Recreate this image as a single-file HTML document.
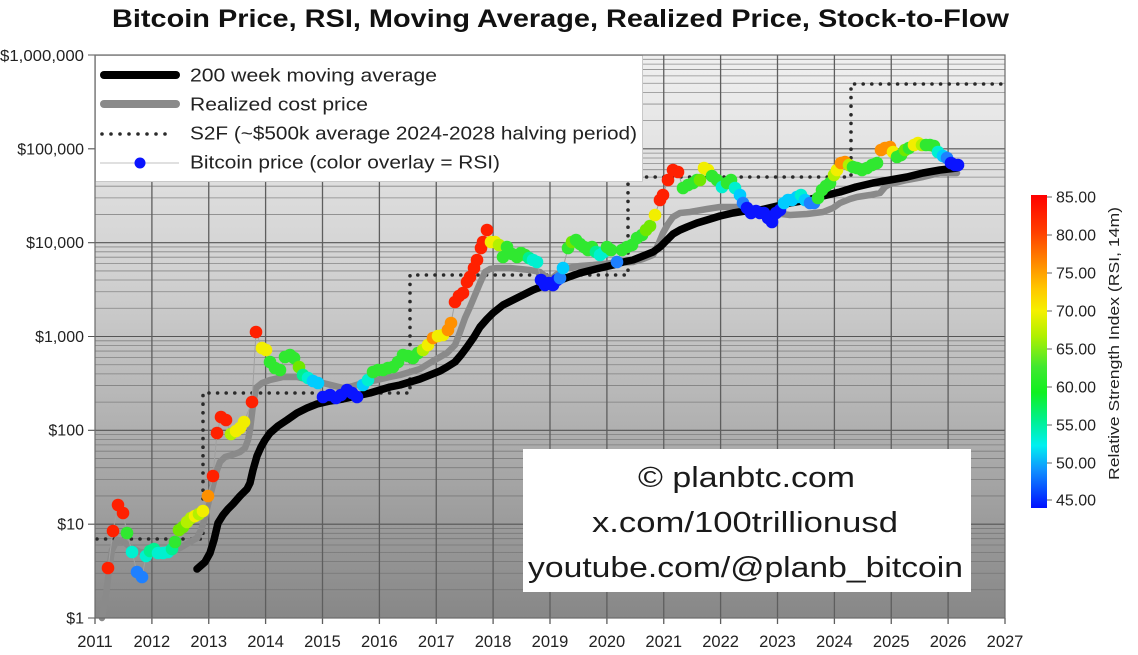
<!DOCTYPE html>
<html>
<head>
<meta charset="utf-8">
<style>
html,body{margin:0;padding:0;background:#fff;}
svg{display:block;font-family:"Liberation Sans","DejaVu Sans",sans-serif;}
.R{fill:#ff2000}.O{fill:#ff9000}.Y{fill:#f2ee00}.YG{fill:#b4f000}.LG{fill:#70e800}
.G{fill:#30e830}.AG{fill:#00f090}.A{fill:#00f0d0}.C{fill:#00ccff}.DB{fill:#1e80ff}.B{fill:#0a14ff}
</style>
</head>
<body>
<svg width="1138" height="655" viewBox="0 0 1138 655" xmlns="http://www.w3.org/2000/svg">
<defs>
<linearGradient id="bg" x1="0" y1="0" x2="0" y2="1">
<stop offset="0" stop-color="#f0f0f0"/>
<stop offset="0.4" stop-color="#d0d0d0"/>
<stop offset="1" stop-color="#878787"/>
</linearGradient>
<linearGradient id="cb" x1="0" y1="0" x2="0" y2="1">
<stop offset="0" stop-color="#ff0000"/>
<stop offset="0.12" stop-color="#ff4000"/>
<stop offset="0.22" stop-color="#ff8c00"/>
<stop offset="0.3" stop-color="#ffc800"/>
<stop offset="0.37" stop-color="#f5f000"/>
<stop offset="0.45" stop-color="#b0f000"/>
<stop offset="0.55" stop-color="#40e830"/>
<stop offset="0.63" stop-color="#10f020"/>
<stop offset="0.72" stop-color="#00f090"/>
<stop offset="0.8" stop-color="#00f0f0"/>
<stop offset="0.88" stop-color="#1090ff"/>
<stop offset="1" stop-color="#0010ff"/>
</linearGradient>
</defs>

<!-- Title -->
<text x="112" y="27" font-size="25" font-weight="bold" fill="#111" textLength="897" lengthAdjust="spacingAndGlyphs">Bitcoin Price, RSI, Moving Average, Realized Price, Stock-to-Flow</text>

<!-- plot background -->
<rect x="95" y="55" width="910" height="563" fill="url(#bg)"/>

<!-- minor horizontal gridlines -->
<path fill="none" stroke="#6e6e6e" stroke-width="0.8" opacity="0.75" d="
M95 589.75H1005M95 573.23H1005M95 561.51H1005M95 552.41H1005M95 545H1005M95 538.7H1005M95 533.3H1005M95 528.45H1005
M95 495.92H1005M95 479.4H1005M95 467.68H1005M95 458.58H1005M95 451.17H1005M95 444.87H1005M95 439.47H1005M95 434.62H1005
M95 402.09H1005M95 385.57H1005M95 373.85H1005M95 364.75H1005M95 357.34H1005M95 351.04H1005M95 345.64H1005M95 340.79H1005
M95 308.26H1005M95 291.74H1005M95 280.02H1005M95 270.92H1005M95 263.51H1005M95 257.21H1005M95 251.81H1005M95 246.96H1005
M95 214.43H1005M95 197.91H1005M95 186.19H1005M95 177.09H1005M95 169.68H1005M95 163.38H1005M95 157.98H1005M95 153.13H1005
M95 120.6H1005M95 104.08H1005M95 92.36H1005M95 83.26H1005M95 75.85H1005M95 69.55H1005M95 64.15H1005M95 59.3H1005"/>
<!-- major horizontal -->
<path fill="none" stroke="#555" stroke-width="1.1" d="M88 524.17H1005M88 430.34H1005M88 336.51H1005M88 242.68H1005M88 148.85H1005M88 55H1005M88 618H95"/>
<!-- vertical year lines -->
<path fill="none" stroke="#5e5e5e" stroke-width="1.3" d="
M151.9 55V624M208.75 55V624M265.6 55V624M322.5 55V624M379.4 55V624M436.25 55V624M493.1 55V624M550 55V624M606.9 55V624M663.75 55V624M720.6 55V624M777.5 55V624M834.4 55V624M891.25 55V624M948.1 55V624M95 618V624M1005 618V624"/>

<!-- S2F dotted -->
<path fill="none" stroke="#2a2a2a" stroke-width="3.6" stroke-linecap="round" stroke-dasharray="0 8.6" d="M97 539H203V393H410V275H628V177H851V84H1003"/>

<!-- Realized price -->
<polyline fill="none" stroke="#8a8a8a" stroke-width="6.5" stroke-linejoin="round" stroke-linecap="round" points="102,618 106,595 109,570 112,550 117,540 123,541 130,547 140,552 150,553 160,553 170,552 180,548 190,542 197,538 201,530 205,518 209,500 213,485 217,470 220,462 225,457 232,455 240,452 245,448 248,440 250,430 253,405 256,388 262,383 270,380 283,377 297,377 310,380 323,383 335,386 343,388 353,386 363,383 377,380 390,377 400,375 410,372 420,369 433,361 447,353 455,345 460,332 465,318 470,307 475,295 480,283 485,272 490,269 497,268 510,268 520,269 530,270 540,272 546,277 550,280 556,275 567,268 580,266 593,265 613,263 633,262 643,259 653,255 658,245 663,233 668,224 673,217 680,213 690,212 707,209 720,207 740,207 757,209 773,213 790,215 807,214 823,212 833,208 840,203 850,199 857,197 870,195 880,193 885,187 890,184 907,180 923,177 940,173 957,173"/>

<!-- 200 week MA -->
<polyline fill="none" stroke="#000" stroke-width="7.5" stroke-linejoin="round" stroke-linecap="round" points="197,569 205,562 210,553 214,540 218,523 223,515 228,509 233,504 240,496 247,489 250,483 253,470 257,456 261,447 265,440 270,433 278,426 287,420 297,413 307,408 317,404 330,401 343,399 356,396 370,393 380,390 390,387 400,385 410,382 420,379 430,375 440,371 447,367 455,362 461,355 467,347 474,337 480,327 487,319 493,313 503,305 513,300 523,295 533,290 543,286 553,283 566,278 580,273 596,269 613,265 623,262 633,260 643,256 653,252 660,247 667,240 673,234 680,230 687,227 697,223 707,220 720,216 733,213 745,211 760,210 773,207 790,203 807,200 823,196 840,192 856,187 873,183 890,180 907,177 923,173 940,170 957,168"/>

<!-- price connecting line -->
<polyline fill="none" stroke="#a0a0a0" stroke-width="1" points="108,568 113,531 118,505 123,513 127,533 132,552 137,572 142,577 146,556 150,551 154,549 158,553 163,553 168,552 172,549 175,542 179,530 183,527 187,522 191,518 195,516 199,514 203,511 208,496 213,476 217,433 221,417 226,420 231,434 236,431 240,428 244,422 252,402 256,332 262,348 266,350 270,362 275,368 280,370 285,357 290,355 294,358 299,367 303,375 308,378 313,381 318,383 323,397 330,395 336,398 341,395 347,390 352,393 357,397 363,385 368,380 373,372 378,370 383,370 388,368 393,367 398,362 403,355 408,356 413,358 418,353 423,350 428,345 433,338 438,336 443,335 448,330 451,323 455,302 459,296 463,293 467,282 470,277 474,268 477,260 481,248 483,242 487,230 491,242 495,242 499,245 503,257 507,247 512,254 517,257 521,253 525,255 529,258 533,260 537,262 541,280 545,285 549,283 553,285 557,280 560,278 563,268 568,248 572,242 576,240 580,244 584,247 588,250 592,247 596,252 600,255 604,252 607,247 611,250 617,262 622,250 627,247 632,245 637,238 642,235 646,230 650,226 655,215 660,200 663,195 668,180 673,170 678,172 683,188 688,185 693,183 697,180 700,180 704,168 708,170 712,176 717,180 722,187 727,183 731,180 735,188 740,195 743,203 747,208 751,213 756,211 760,213 764,213 768,218 772,222 776,213 780,210 784,203 788,200 792,200 797,197 801,195 805,200 810,203 814,203 818,198 822,190 826,186 830,183 834,175 837,170 841,163 845,162 849,165 853,167 857,168 862,170 867,168 872,165 877,163 881,150 885,148 890,147 893,152 897,157 901,155 905,150 909,148 914,145 918,143 922,145 926,145 930,145 934,146 938,152 943,156 947,158 951,163 955,165 958,165"/>

<!-- price dots -->
<g>
<circle cx="108" cy="568" r="6.3" class="R"/><circle cx="113" cy="531" r="6.3" class="R"/><circle cx="118" cy="505" r="6.3" class="R"/><circle cx="123" cy="513" r="6.3" class="R"/><circle cx="127" cy="533" r="6.3" class="G"/><circle cx="132" cy="552" r="6.3" class="A"/><circle cx="137" cy="572" r="6.3" class="DB"/><circle cx="142" cy="577" r="6.3" class="DB"/><circle cx="146" cy="556" r="6.3" class="A"/><circle cx="150" cy="551" r="6.3" class="AG"/><circle cx="154" cy="549" r="6.3" class="AG"/><circle cx="158" cy="553" r="6.3" class="A"/><circle cx="163" cy="553" r="6.3" class="A"/><circle cx="168" cy="552" r="6.3" class="A"/><circle cx="172" cy="549" r="6.3" class="AG"/><circle cx="175" cy="542" r="6.3" class="G"/><circle cx="179" cy="530" r="6.3" class="LG"/><circle cx="183" cy="527" r="6.3" class="LG"/><circle cx="187" cy="522" r="6.3" class="YG"/><circle cx="191" cy="518" r="6.3" class="YG"/><circle cx="195" cy="516" r="6.3" class="Y"/><circle cx="199" cy="514" r="6.3" class="YG"/><circle cx="203" cy="511" r="6.3" class="Y"/><circle cx="208" cy="496" r="6.3" class="O"/><circle cx="213" cy="476" r="6.3" class="R"/><circle cx="217" cy="433" r="6.3" class="R"/><circle cx="221" cy="417" r="6.3" class="R"/><circle cx="226" cy="420" r="6.3" class="R"/><circle cx="231" cy="434" r="6.3" class="YG"/><circle cx="236" cy="431" r="6.3" class="Y"/><circle cx="240" cy="428" r="6.3" class="Y"/><circle cx="244" cy="422" r="6.3" class="Y"/><circle cx="252" cy="402" r="6.3" class="R"/><circle cx="256" cy="332" r="6.3" class="R"/><circle cx="262" cy="348" r="6.3" class="Y"/><circle cx="266" cy="350" r="6.3" class="Y"/><circle cx="270" cy="362" r="6.3" class="G"/><circle cx="275" cy="368" r="6.3" class="G"/><circle cx="280" cy="370" r="6.3" class="G"/><circle cx="285" cy="357" r="6.3" class="G"/><circle cx="290" cy="355" r="6.3" class="G"/><circle cx="294" cy="358" r="6.3" class="G"/><circle cx="299" cy="367" r="6.3" class="LG"/><circle cx="303" cy="375" r="6.3" class="AG"/><circle cx="308" cy="378" r="6.3" class="A"/><circle cx="313" cy="381" r="6.3" class="C"/><circle cx="318" cy="383" r="6.3" class="C"/><circle cx="323" cy="397" r="6.3" class="B"/><circle cx="330" cy="395" r="6.3" class="B"/><circle cx="336" cy="398" r="6.3" class="B"/><circle cx="341" cy="395" r="6.3" class="B"/><circle cx="347" cy="390" r="6.3" class="B"/><circle cx="352" cy="393" r="6.3" class="B"/><circle cx="357" cy="397" r="6.3" class="B"/><circle cx="363" cy="385" r="6.3" class="C"/><circle cx="368" cy="380" r="6.3" class="A"/><circle cx="373" cy="372" r="6.3" class="G"/><circle cx="378" cy="370" r="6.3" class="G"/><circle cx="383" cy="370" r="6.3" class="G"/><circle cx="388" cy="368" r="6.3" class="G"/><circle cx="393" cy="367" r="6.3" class="G"/><circle cx="398" cy="362" r="6.3" class="G"/><circle cx="403" cy="355" r="6.3" class="G"/><circle cx="408" cy="356" r="6.3" class="G"/><circle cx="413" cy="358" r="6.3" class="G"/><circle cx="418" cy="353" r="6.3" class="G"/><circle cx="423" cy="350" r="6.3" class="YG"/><circle cx="428" cy="345" r="6.3" class="Y"/><circle cx="433" cy="338" r="6.3" class="O"/><circle cx="438" cy="336" r="6.3" class="Y"/><circle cx="443" cy="335" r="6.3" class="Y"/><circle cx="448" cy="330" r="6.3" class="O"/><circle cx="451" cy="323" r="6.3" class="O"/><circle cx="455" cy="302" r="6.3" class="R"/><circle cx="459" cy="296" r="6.3" class="R"/><circle cx="463" cy="293" r="6.3" class="R"/><circle cx="467" cy="282" r="6.3" class="R"/><circle cx="470" cy="277" r="6.3" class="R"/><circle cx="474" cy="268" r="6.3" class="R"/><circle cx="477" cy="260" r="6.3" class="R"/><circle cx="481" cy="248" r="6.3" class="R"/><circle cx="483" cy="242" r="6.3" class="R"/><circle cx="487" cy="230" r="6.3" class="R"/><circle cx="491" cy="242" r="6.3" class="Y"/><circle cx="495" cy="242" r="6.3" class="Y"/><circle cx="499" cy="245" r="6.3" class="YG"/><circle cx="503" cy="257" r="6.3" class="G"/><circle cx="507" cy="247" r="6.3" class="G"/><circle cx="512" cy="254" r="6.3" class="G"/><circle cx="517" cy="257" r="6.3" class="G"/><circle cx="521" cy="253" r="6.3" class="G"/><circle cx="525" cy="255" r="6.3" class="G"/><circle cx="529" cy="258" r="6.3" class="AG"/><circle cx="533" cy="260" r="6.3" class="A"/><circle cx="537" cy="262" r="6.3" class="A"/><circle cx="541" cy="280" r="6.3" class="B"/><circle cx="545" cy="285" r="6.3" class="B"/><circle cx="549" cy="283" r="6.3" class="B"/><circle cx="553" cy="285" r="6.3" class="B"/><circle cx="557" cy="280" r="6.3" class="B"/><circle cx="560" cy="278" r="6.3" class="DB"/><circle cx="563" cy="268" r="6.3" class="C"/><circle cx="568" cy="248" r="6.3" class="G"/><circle cx="572" cy="242" r="6.3" class="LG"/><circle cx="576" cy="240" r="6.3" class="G"/><circle cx="580" cy="244" r="6.3" class="G"/><circle cx="584" cy="247" r="6.3" class="G"/><circle cx="588" cy="250" r="6.3" class="G"/><circle cx="592" cy="247" r="6.3" class="G"/><circle cx="596" cy="252" r="6.3" class="AG"/><circle cx="600" cy="255" r="6.3" class="A"/><circle cx="604" cy="252" r="6.3" class="A"/><circle cx="607" cy="247" r="6.3" class="G"/><circle cx="611" cy="250" r="6.3" class="G"/><circle cx="617" cy="262" r="6.3" class="DB"/><circle cx="622" cy="250" r="6.3" class="G"/><circle cx="627" cy="247" r="6.3" class="G"/><circle cx="632" cy="245" r="6.3" class="G"/><circle cx="637" cy="238" r="6.3" class="G"/><circle cx="642" cy="235" r="6.3" class="G"/><circle cx="646" cy="230" r="6.3" class="LG"/><circle cx="650" cy="226" r="6.3" class="LG"/><circle cx="655" cy="215" r="6.3" class="Y"/><circle cx="660" cy="200" r="6.3" class="R"/><circle cx="663" cy="195" r="6.3" class="R"/><circle cx="668" cy="180" r="6.3" class="R"/><circle cx="673" cy="170" r="6.3" class="R"/><circle cx="678" cy="172" r="6.3" class="R"/><circle cx="683" cy="188" r="6.3" class="G"/><circle cx="688" cy="185" r="6.3" class="G"/><circle cx="693" cy="183" r="6.3" class="G"/><circle cx="697" cy="180" r="6.3" class="G"/><circle cx="700" cy="180" r="6.3" class="LG"/><circle cx="704" cy="168" r="6.3" class="Y"/><circle cx="708" cy="170" r="6.3" class="Y"/><circle cx="712" cy="176" r="6.3" class="G"/><circle cx="717" cy="180" r="6.3" class="G"/><circle cx="722" cy="187" r="6.3" class="A"/><circle cx="727" cy="183" r="6.3" class="G"/><circle cx="731" cy="180" r="6.3" class="G"/><circle cx="735" cy="188" r="6.3" class="A"/><circle cx="740" cy="195" r="6.3" class="C"/><circle cx="743" cy="203" r="6.3" class="DB"/><circle cx="747" cy="208" r="6.3" class="B"/><circle cx="751" cy="213" r="6.3" class="B"/><circle cx="756" cy="211" r="6.3" class="B"/><circle cx="760" cy="213" r="6.3" class="B"/><circle cx="764" cy="213" r="6.3" class="B"/><circle cx="768" cy="218" r="6.3" class="B"/><circle cx="772" cy="222" r="6.3" class="B"/><circle cx="776" cy="213" r="6.3" class="B"/><circle cx="780" cy="210" r="6.3" class="B"/><circle cx="784" cy="203" r="6.3" class="C"/><circle cx="788" cy="200" r="6.3" class="C"/><circle cx="792" cy="200" r="6.3" class="C"/><circle cx="797" cy="197" r="6.3" class="C"/><circle cx="801" cy="195" r="6.3" class="A"/><circle cx="805" cy="200" r="6.3" class="C"/><circle cx="810" cy="203" r="6.3" class="DB"/><circle cx="814" cy="203" r="6.3" class="DB"/><circle cx="818" cy="198" r="6.3" class="G"/><circle cx="822" cy="190" r="6.3" class="G"/><circle cx="826" cy="186" r="6.3" class="G"/><circle cx="830" cy="183" r="6.3" class="G"/><circle cx="834" cy="175" r="6.3" class="YG"/><circle cx="837" cy="170" r="6.3" class="Y"/><circle cx="841" cy="163" r="6.3" class="O"/><circle cx="845" cy="162" r="6.3" class="O"/><circle cx="849" cy="165" r="6.3" class="YG"/><circle cx="853" cy="167" r="6.3" class="G"/><circle cx="857" cy="168" r="6.3" class="G"/><circle cx="862" cy="170" r="6.3" class="G"/><circle cx="867" cy="168" r="6.3" class="G"/><circle cx="872" cy="165" r="6.3" class="G"/><circle cx="877" cy="163" r="6.3" class="G"/><circle cx="881" cy="150" r="6.3" class="O"/><circle cx="885" cy="148" r="6.3" class="O"/><circle cx="890" cy="147" r="6.3" class="O"/><circle cx="893" cy="152" r="6.3" class="Y"/><circle cx="897" cy="157" r="6.3" class="G"/><circle cx="901" cy="155" r="6.3" class="G"/><circle cx="905" cy="150" r="6.3" class="LG"/><circle cx="909" cy="148" r="6.3" class="G"/><circle cx="914" cy="145" r="6.3" class="Y"/><circle cx="918" cy="143" r="6.3" class="Y"/><circle cx="922" cy="145" r="6.3" class="YG"/><circle cx="926" cy="145" r="6.3" class="G"/><circle cx="930" cy="145" r="6.3" class="G"/><circle cx="934" cy="146" r="6.3" class="G"/><circle cx="938" cy="152" r="6.3" class="A"/><circle cx="943" cy="156" r="6.3" class="C"/><circle cx="947" cy="158" r="6.3" class="DB"/><circle cx="951" cy="163" r="6.3" class="B"/><circle cx="955" cy="165" r="6.3" class="B"/><circle cx="958" cy="165" r="6.3" class="B"/>
</g>

<!-- Legend -->
<rect x="95.5" y="55.5" width="547" height="126" fill="#fff" stroke="#c8c8c8" stroke-width="1"/>
<line x1="104" y1="75" x2="176" y2="75" stroke="#000" stroke-width="8" stroke-linecap="round"/>
<line x1="104" y1="104" x2="176" y2="104" stroke="#8a8a8a" stroke-width="8" stroke-linecap="round"/>
<line x1="102" y1="134" x2="174" y2="134" stroke="#2a2a2a" stroke-width="3.6" stroke-linecap="round" stroke-dasharray="0 9"/>
<line x1="100" y1="163" x2="179" y2="163" stroke="#c0c0c0" stroke-width="1"/>
<circle cx="140" cy="163" r="5.5" fill="#0a14ff"/>
<g font-size="18.5" fill="#222">
<text x="190" y="81.5" textLength="247" lengthAdjust="spacingAndGlyphs">200 week moving average</text>
<text x="190" y="110.5" textLength="178" lengthAdjust="spacingAndGlyphs">Realized cost price</text>
<text x="190" y="139.5" textLength="447" lengthAdjust="spacingAndGlyphs">S2F (~$500k average 2024-2028 halving period)</text>
<text x="190" y="168.5" textLength="310" lengthAdjust="spacingAndGlyphs">Bitcoin price (color overlay = RSI)</text>
</g>

<!-- Credit box -->
<rect x="523" y="449" width="448" height="143" fill="#fff"/>
<g font-size="29" fill="#1a1a1a">
<text x="638" y="487" textLength="217" lengthAdjust="spacingAndGlyphs">© planbtc.com</text>
<text x="592" y="532" textLength="306" lengthAdjust="spacingAndGlyphs">x.com/100trillionusd</text>
<text x="528" y="577" textLength="435" lengthAdjust="spacingAndGlyphs">youtube.com/@planb_bitcoin</text>
</g>

<!-- plot frame -->
<rect x="95" y="55" width="910" height="563" fill="none" stroke="#6a6a6a" stroke-width="1.2"/>

<!-- Y axis labels -->
<g font-size="16" fill="#222" text-anchor="end">
<text x="84" y="623.5">$1</text>
<text x="84" y="529.5">$10</text>
<text x="84" y="435.5">$100</text>
<text x="84" y="342">$1,000</text>
<text x="84" y="248">$10,000</text>
<text x="84" y="154.5">$100,000</text>
<text x="84" y="61" textLength="84" lengthAdjust="spacingAndGlyphs">$1,000,000</text>
</g>

<!-- X axis labels -->
<g font-size="16.5" fill="#222" text-anchor="middle">
<text x="95" y="647">2011</text>
<text x="151.9" y="647">2012</text>
<text x="208.75" y="647">2013</text>
<text x="265.6" y="647">2014</text>
<text x="322.5" y="647">2015</text>
<text x="379.4" y="647">2016</text>
<text x="436.25" y="647">2017</text>
<text x="493.1" y="647">2018</text>
<text x="550" y="647">2019</text>
<text x="606.9" y="647">2020</text>
<text x="663.75" y="647">2021</text>
<text x="720.6" y="647">2022</text>
<text x="777.5" y="647">2023</text>
<text x="834.4" y="647">2024</text>
<text x="891.25" y="647">2025</text>
<text x="948.1" y="647">2026</text>
<text x="1005" y="647">2027</text>
</g>

<!-- Colorbar -->
<rect x="1031" y="195" width="16" height="313" fill="url(#cb)"/>
<g stroke="#666" stroke-width="1">
<path d="M1047 197H1052M1047 235H1052M1047 273H1052M1047 311H1052M1047 349H1052M1047 387H1052M1047 425H1052M1047 463H1052M1047 500H1052"/>
</g>
<g font-size="16" fill="#222">
<text x="1056" y="202.5">85.00</text>
<text x="1056" y="240.5">80.00</text>
<text x="1056" y="278.5">75.00</text>
<text x="1056" y="316.5">70.00</text>
<text x="1056" y="354.5">65.00</text>
<text x="1056" y="392.5">60.00</text>
<text x="1056" y="430.5">55.00</text>
<text x="1056" y="468.5">50.00</text>
<text x="1056" y="505.5">45.00</text>
</g>
<text transform="translate(1119,480) rotate(-90)" font-size="14.5" fill="#222" textLength="273" lengthAdjust="spacingAndGlyphs">Relative Strength Index (RSI, 14m)</text>
</svg>
</body>
</html>
